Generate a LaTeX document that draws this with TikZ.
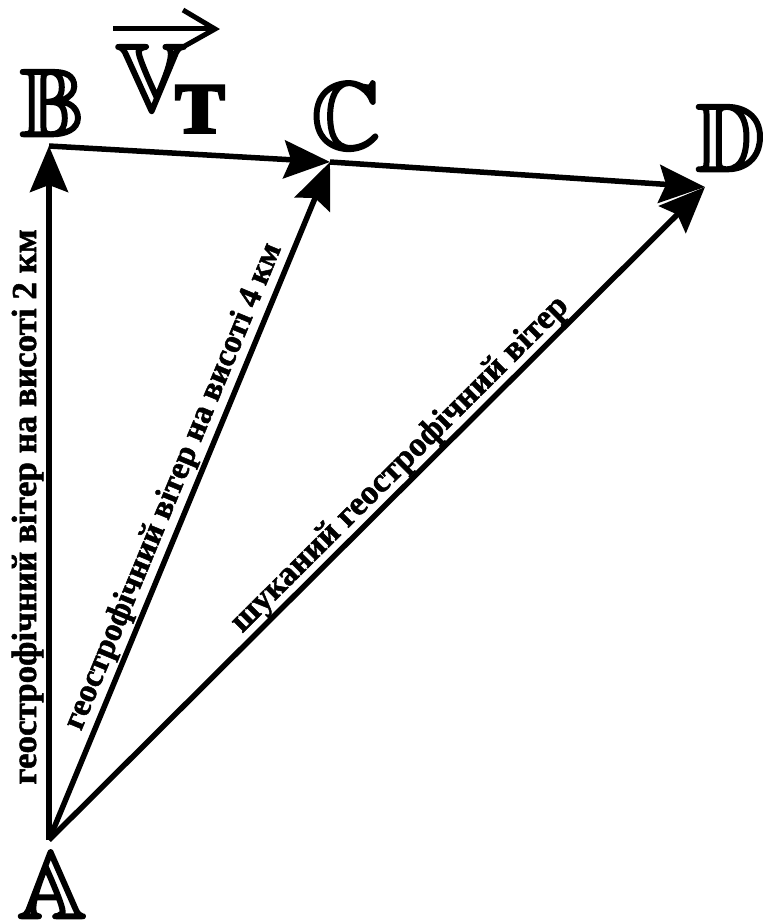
\documentclass[tikz,border=0pt]{standalone}
\usepackage{fontspec}
\usepackage{amssymb}
\setmainfont{Liberation Serif}[BoldFeatures={FakeBold=1.5}]
\usetikzlibrary{arrows.meta}
\newcommand\heavyglyph[1]{\special{pdf:literal q 2 Tr 2.6 w 1 j}#1\special{pdf:literal Q}}
\begin{document}
\begin{tikzpicture}[x=1pt,y=-1pt,
  vec/.style={line width=5.5pt, -{Stealth[length=46pt,width=38pt,inset=7pt]}},
  lbl/.style={font=\fontsize{34}{40}\selectfont\bfseries, inner sep=0pt},
  letter/.style={font=\fontsize{96}{96}\selectfont, inner sep=0pt, anchor=base},
  barb/.style={line width=5pt, line join=miter}]
\useasboundingbox (0,0) rectangle (764,920);
\coordinate (A) at (49,840);
\coordinate (B) at (49,146);
\coordinate (C) at (330,162);
\coordinate (D) at (705,187);
\draw[vec] (A) -- (B);
\draw[vec] (B) -- (C);
\draw[vec] (C) -- (D);
\draw[vec] (A) -- (C);
\draw[vec] (A) -- (D);
\node[letter] (lA) at (52,918) {\heavyglyph{$\mathbb{A}$}};
\node[letter] (lB) at (52,136) {\heavyglyph{$\mathbb{B}$}};
\node[letter] (lC) at (346,149) {\heavyglyph{$\mathbb{C}$}};
\node[letter] (lD) at (730,171) {\heavyglyph{$\mathbb{D}$}};
\node[letter] (lV) at (151,111) {\heavyglyph{$\mathbb{V}$}};
\node[font=\fontsize{104}{104}\selectfont\bfseries, inner sep=0pt, anchor=base] (lT) at (200,133) {т};
\coordinate (v1) at (113,29);
\coordinate (v2) at (212,29);
\coordinate (vt) at (215,29);
\coordinate (vu) at (183,10);
\coordinate (vd) at (183,47);
\draw[barb] (v1) -- (v2);
\draw[barb] (vu) -- (vt) -- (vd);
\path (A) -- (B) node[lbl, font=\fontsize{35}{40}\selectfont\bfseries, pos=0.48, sloped, above=13pt, anchor=base] (tAB) {геострофічний вітер на висоті 2 км};
\path (A) -- (C) node[lbl, font=\fontsize{33}{40}\selectfont\bfseries, pos=0.51, sloped, above=12pt, anchor=base] (tAC) {геострофічний вітер на висоті 4 км};
\path (A) -- (D) node[lbl, pos=0.555, sloped, above=10pt, anchor=base] (tAD) {шуканий геострофічний вітер};
\end{tikzpicture}
\end{document}
